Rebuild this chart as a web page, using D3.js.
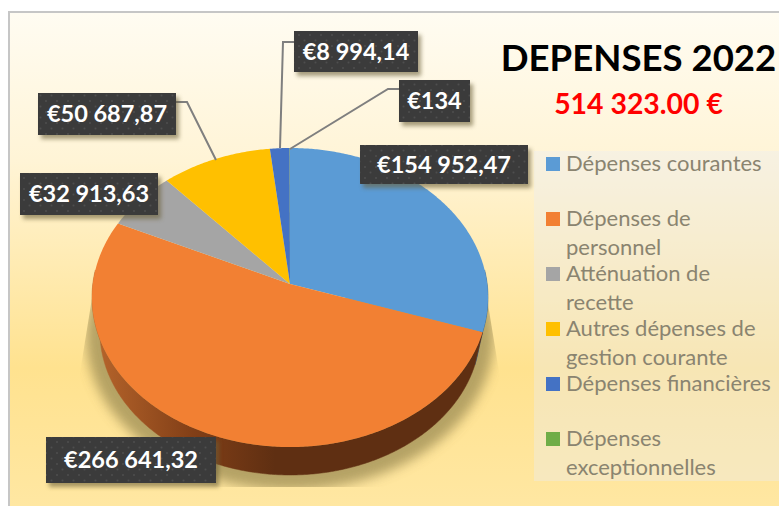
<!DOCTYPE html>
<html><head><meta charset="utf-8">
<script src="https://cdn.jsdelivr.net/npm/d3@7"></script>
<style>html,body{margin:0;padding:0;background:#fff}svg{display:block}text{font-family:Lato,"Open Sans",sans-serif}</style>
</head><body><svg id="c" width="779" height="506"></svg>
<script>
const categories = ["Dépenses courantes","Dépenses de personnel","Atténuation de recette","Autres dépenses de gestion courante","Dépenses financières","Dépenses exceptionnelles"];
const values = [154952.47,266641.32,32913.63,50687.87,8994.14,134];
const valueLabels = ["€154 952,47","€266 641,32","€32 913,63","€50 687,87","€8 994,14","€134"];
const legendLines = [["Dépenses courantes"],["Dépenses de","personnel"],["Atténuation de","recette"],["Autres dépenses de","gestion courante"],["Dépenses financières"],["Dépenses","exceptionnelles"]];
const colors = ["#5b9bd5","#f28033","#a5a5a5","#ffc000","#4472c4","#70ad47"];
const titleText = "DEPENSES 2022";
const subtitleText = "514 323.00 €";

// layout (separate from data)
const labelBoxes = [[360,145,168,39],[46,437,170,46],[20,173,138,42],[38,93,138,42],[294,31,124,41],[399,80,71,42]];
const leaders = [null,null,null,[[176,102],[187,102],[216,160]],[[294,42],[283,42],[280,148]],[[399,89],[388,89],[290,149]]];
const legendY = [164,219,274,329,384,439];

const W=779,H=506,cx=290,cy=284,R=197.2,A=148.3,K=0.0903;
const svg=d3.select("#c"),defs=svg.append("defs");

const bg=defs.append("linearGradient").attr("id","bg").attr("x1",0).attr("y1",0).attr("x2",0).attr("y2",1);
[[0,"#fffcf2"],[.3,"#fff4d6"],[.72,"#ffe28f"],[1,"#ffe7a2"]].forEach(s=>bg.append("stop").attr("offset",s[0]).attr("stop-color",s[1]));
const wg=defs.append("linearGradient").attr("id","wall").attr("gradientUnits","userSpaceOnUse").attr("x1",92).attr("x2",275).attr("y1",0).attr("y2",0);
[[0,"#b8662c"],[.55,"#823f17"],[1,"#5f2f12"]].forEach(s=>wg.append("stop").attr("offset",s[0]).attr("stop-color",s[1]));
const pat=defs.append("pattern").attr("id","dots").attr("patternUnits","userSpaceOnUse").attr("width",11).attr("height",11);
pat.append("rect").attr("width",11).attr("height",11).attr("fill","#3b3b3b");
[[2,2],[7.5,7.5]].forEach(d=>pat.append("circle").attr("cx",d[0]).attr("cy",d[1]).attr("r",1).attr("fill","#4e4e4e"));
const f1=defs.append("filter").attr("id","blur").attr("x","-20%").attr("y","-20%").attr("width","140%").attr("height","140%");
f1.append("feGaussianBlur").attr("stdDeviation",6);
const f2=defs.append("filter").attr("id","bs").attr("x","-20%").attr("y","-30%").attr("width","140%").attr("height","170%");
f2.append("feGaussianBlur").attr("stdDeviation",2.2);
defs.append("clipPath").attr("id","sc").append("path").attr("d","M92,298L78,385L78,487L502,487L502,390L487,298Z");

svg.append("rect").attr("x",9).attr("y",12).attr("width",W-9).attr("height",H-12).attr("fill","url(#bg)");
svg.append("path").attr("d",`M9,${H}V12H${W}`).attr("fill","none").attr("stroke","#c6c6c6").attr("stroke-width",2);

// projection of the tilted disc
function pt(t,s,shift){s=s||1;shift=shift||0;const u=Math.sin(t),v=Math.cos(t),w=1+K*v;
  return [cx+s*R*u/w, cy+shift-s*A*v/w];}
const arcPts=(a,b,s,shift)=>{const n=Math.max(2,Math.ceil((b-a)/0.01));return d3.range(n+1).map(i=>pt(a+(b-a)*i/n,s,shift));};
const line=d3.line();
const S=.96,SH=34.5;

// soft shadow
svg.append("g").attr("clip-path","url(#sc)").append("path")
  .attr("d",line(arcPts(0,2*Math.PI,1.03,38))+"Z").attr("fill","#a8965c").attr("opacity",.85).attr("filter","url(#blur)");

const pie=d3.pie().sort(null).value(d=>d)(values);
const wallColors=["#2f5f8c","url(#wall)","#666","#997300","#2a4a85","#43682b"];
const lo=Math.PI*.47,hi=Math.PI*1.53;
pie.forEach((d,i)=>{const a=Math.max(d.startAngle,lo),b=Math.min(d.endAngle,hi);if(b<=a)return;
  svg.append("path").attr("d",line(arcPts(a,b).concat(arcPts(a,b,S,SH).reverse()))+"Z").attr("fill",wallColors[i]).attr("stroke",wallColors[i]).attr("stroke-width",.5);});
pie.forEach((d,i)=>{
  svg.append("path").attr("d",line([[cx,cy]].concat(arcPts(d.startAngle,d.endAngle)))+"Z").attr("fill",colors[i]);});

// leaders
leaders.forEach(l=>{if(l)svg.append("path").attr("d",line(l)).attr("fill","none").attr("stroke","#7f7f7f").attr("stroke-width",2);});

// labels
valueLabels.forEach((t,i)=>{const b=labelBoxes[i];
  svg.append("rect").attr("x",b[0]+3).attr("y",b[1]+4).attr("width",b[2]).attr("height",b[3]).attr("fill","#6b5f38").attr("opacity",.6).attr("filter","url(#bs)");
  svg.append("rect").attr("x",b[0]).attr("y",b[1]).attr("width",b[2]).attr("height",b[3]).attr("fill","url(#dots)");
  svg.append("text").attr("x",b[0]+b[2]/2).attr("y",b[1]+b[3]/2+8).attr("text-anchor","middle").attr("font-size",23.5).attr("font-weight",700).attr("fill","#fff").text(t);
});

// titles
svg.append("text").attr("x",638.5).attr("y",71).attr("text-anchor","middle").attr("font-size",36.6).attr("font-weight",700).attr("fill","#000").text(titleText);
svg.append("text").attr("x",638.5).attr("y",114).attr("text-anchor","middle").attr("font-size",28.4).attr("font-weight",700).attr("fill","#ff0000").text(subtitleText);

// legend
svg.append("rect").attr("x",534).attr("y",151).attr("width",245).attr("height",330).attr("fill","#e9edf2").attr("opacity",.38);
categories.forEach((c,i)=>{const y=legendY[i];
  svg.append("rect").attr("x",546).attr("y",y-7).attr("width",14).attr("height",14).attr("fill",colors[i]);
  legendLines[i].forEach((l,j)=>svg.append("text").attr("x",566).attr("y",y+7+j*29).attr("font-size",22).attr("fill","#8a8470").text(l));
});
</script></body></html>
